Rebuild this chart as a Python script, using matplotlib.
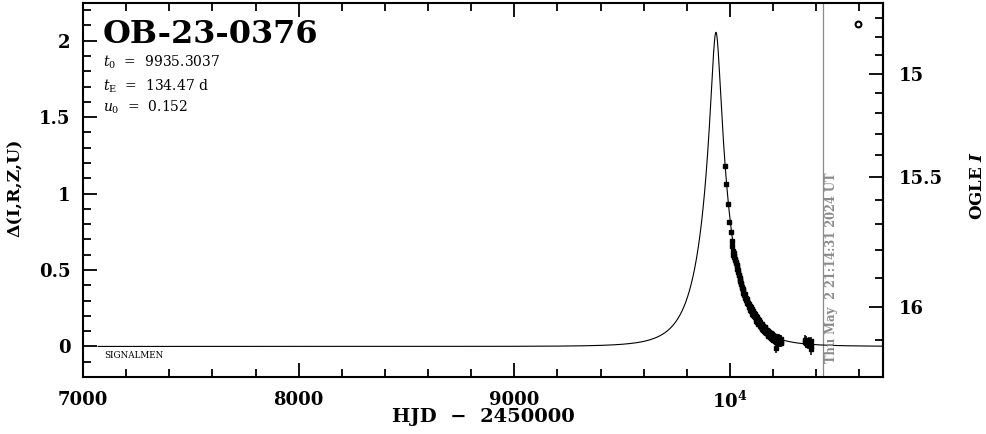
import numpy as np
import matplotlib
matplotlib.use('Agg')
import matplotlib.pyplot as plt
from matplotlib.ticker import FixedLocator, FixedFormatter
from matplotlib.transforms import blended_transform_factory, offset_copy

# ---------------- data ----------------
event_name = "OB-23-0376"
t0 = 9935.3037      # HJD - 2450000
tE = 134.47         # days
u0 = 0.152
I_base = 16.118     # baseline OGLE I magnitude
f_source = 0.4326   # source flux fraction at baseline
t_now = 10432.885   # Thu May 2 21:14:31 2024 UT
now_label = "Thu May  2 21:14:31 2024 UT"

t_obs = [9975, 9984, 9992, 9998, 10003, 10008, 10011,
         10013, 10015, 10017, 10019, 10021, 10023, 10025, 10027, 10029, 10031,
         10033, 10035, 10037, 10039, 10041, 10043, 10045, 10047, 10049, 10051,
         10053, 10055, 10057, 10059, 10061, 10063, 10065, 10067, 10069, 10071,
         10073, 10075, 10077, 10079, 10081, 10083, 10085, 10087, 10089, 10091,
         10093, 10095, 10097, 10099, 10101, 10103, 10105, 10107, 10109, 10111,
         10113, 10115, 10117, 10119, 10121, 10123, 10125, 10127, 10129, 10131,
         10133, 10135, 10137, 10139, 10141, 10143, 10145, 10147, 10149, 10151,
         10153, 10155, 10157, 10159, 10161, 10163, 10165, 10167, 10169, 10171,
         10173, 10175, 10177, 10179, 10181, 10183, 10185, 10187, 10189, 10191,
         10193, 10195, 10197, 10199, 10201, 10203, 10205, 10207, 10209, 10211,
         10213, 10215, 10217, 10219, 10221, 10223, 10225, 10227, 10229, 10231,
         10233, 10235, 10237, 10239, 10213,
         10348, 10350, 10352, 10355, 10358, 10360, 10363, 10366, 10370, 10374,
         10376, 10378]
delta_obs = [1.18, 1.065, 0.93, 0.815, 0.75, 0.69, 0.66,
             0.625, 0.60, 0.61, 0.585, 0.59, 0.565, 0.575, 0.55, 0.545, 0.53,
             0.525, 0.505, 0.50, 0.485, 0.47, 0.465, 0.445, 0.44, 0.425, 0.415,
             0.41, 0.39, 0.385, 0.37, 0.375, 0.35, 0.345, 0.335, 0.34, 0.315,
             0.32, 0.305, 0.31, 0.285, 0.30, 0.275, 0.285, 0.26, 0.275, 0.25,
             0.265, 0.24, 0.255, 0.23, 0.245, 0.215, 0.235, 0.205, 0.225, 0.20,
             0.22, 0.19, 0.21, 0.18, 0.20, 0.165, 0.19, 0.16, 0.18, 0.15,
             0.175, 0.145, 0.165, 0.135, 0.16, 0.13, 0.15, 0.12, 0.145, 0.115,
             0.135, 0.105, 0.13, 0.10, 0.125, 0.095, 0.12, 0.09, 0.11, 0.085,
             0.105, 0.075, 0.10, 0.07, 0.095, 0.065, 0.09, 0.06, 0.085, 0.055,
             0.08, 0.05, 0.075, 0.045, 0.07, 0.04, 0.065, 0.035, 0.065, 0.04,
             0.06, 0.03, 0.055, 0.035, 0.06, 0.025, 0.05, 0.03, 0.055, 0.02,
             0.045, 0.03, 0.05, 0.025, -0.01,
             0.03, 0.045, 0.02, 0.04, 0.015, 0.025, 0.01, 0.03, 0.02, 0.0,
             0.035, -0.02]
delta_err = [0.012, 0.012, 0.012, 0.012, 0.012, 0.012, 0.012,
             0.012, 0.014, 0.012, 0.013, 0.012, 0.014, 0.012, 0.013, 0.012, 0.014,
             0.012, 0.013, 0.014, 0.012, 0.013, 0.012, 0.014, 0.013, 0.012, 0.014,
             0.013, 0.015, 0.013, 0.014, 0.015, 0.013, 0.014, 0.016, 0.013, 0.015,
             0.014, 0.016, 0.014, 0.015, 0.016, 0.014, 0.015, 0.017, 0.015, 0.016,
             0.015, 0.017, 0.016, 0.015, 0.018, 0.016, 0.017, 0.016, 0.018, 0.017,
             0.016, 0.018, 0.017, 0.019, 0.017, 0.018, 0.019, 0.017, 0.018, 0.02,
             0.018, 0.02, 0.019, 0.018, 0.02, 0.019, 0.021, 0.02, 0.019, 0.021,
             0.02, 0.022, 0.02, 0.021, 0.022, 0.02, 0.023, 0.021, 0.022, 0.02,
             0.022, 0.024, 0.021, 0.023, 0.022, 0.024, 0.022, 0.023, 0.025, 0.022,
             0.023, 0.025, 0.022, 0.024, 0.023, 0.025, 0.022, 0.024, 0.023, 0.025,
             0.024, 0.022, 0.025, 0.023, 0.024, 0.026, 0.023, 0.025, 0.024, 0.026,
             0.024, 0.025, 0.023, 0.026, 0.035,
             0.025, 0.03, 0.028, 0.03, 0.026, 0.032, 0.028, 0.03, 0.033, 0.03,
             0.027, 0.035]
t_extra = [10593]
delta_extra = [2.107]

x_ticks = [7000, 8000, 9000, 10000]
x_ticklabels = ["7000", "8000", "9000", r"$\mathbf{10^4}$"]
x_minor = [7200, 7400, 7600, 7800, 8200, 8400, 8600, 8800, 9200, 9400,
           9600, 9800, 10200, 10400, 10600]
y_ticks = [0, 0.5, 1, 1.5, 2]
y_ticklabels = ["0", "0.5", "1", "1.5", "2"]
y_minor = [-0.1, 0.1, 0.2, 0.3, 0.4, 0.6, 0.7, 0.8, 0.9, 1.1, 1.2, 1.3,
           1.4, 1.6, 1.7, 1.8, 1.9, 2.1, 2.2]
mag_ticks = [15, 15.5, 16]
mag_ticklabels = ["15", "15.5", "16"]
mag_minor = [14.7, 14.8, 14.9, 15.1, 15.2, 15.3, 15.4, 15.6, 15.7, 15.8,
             15.9, 16.1, 16.2]

# ---------------- model (from the fitted parameters) ----------------
t_model = np.linspace(7070, 10710, 4000)
u = np.sqrt(u0**2 + ((t_model - t0) / tE)**2)
A = (u**2 + 2) / (u * np.sqrt(u**2 + 4))
delta_model = 2.5 * np.log10(A)


def d2I(d):
    d = np.asarray(d, dtype=float)
    return I_base - 2.5 * np.log10(f_source * 10**(0.4 * d) + 1 - f_source)


def I2d(m):
    m = np.asarray(m, dtype=float)
    f = 10**(-0.4 * (m - I_base)) - (1 - f_source)
    f = np.clip(f, 1e-6, None)
    return 2.5 * np.log10(f / f_source)


# ---------------- figure ----------------
plt.rcParams['font.family'] = ['DejaVu Serif', 'DejaVu Sans']
plt.rcParams['font.weight'] = 'bold'
plt.rcParams['mathtext.fontset'] = 'custom'
plt.rcParams['mathtext.rm'] = 'DejaVu Serif:normal'
plt.rcParams['mathtext.it'] = 'DejaVu Serif:italic:normal'
plt.rcParams['mathtext.bf'] = 'DejaVu Serif:bold'
plt.rcParams['mathtext.bfit'] = 'DejaVu Serif:italic:bold'

W, H = 986, 434
fig = plt.figure(figsize=(W / 100, H / 100), dpi=100)
ax = fig.add_axes([83 / W, 1 - 377 / H, 800 / W, 374.5 / H])

ax.plot(t_model, delta_model, color='black', lw=0.8, zorder=2)
ax.errorbar(t_obs, delta_obs, yerr=delta_err, fmt='s', ms=3.0, color='black',
            mec='black', ecolor='black', elinewidth=1.1, capsize=0, zorder=3)
ax.plot(t_extra, delta_extra, 'o', ms=4.2, mfc='white', mec='black', mew=1.5,
        zorder=3)

ax.axvline(t_now, color='#8a8a8a', lw=0.9, zorder=1)
trans = offset_copy(blended_transform_factory(ax.transData, ax.transAxes),
                    fig=fig, x=8, y=0, units='dots')
ax.text(t_now, 0.037, now_label, transform=trans, rotation=90, ha='center',
        va='bottom', color='#8a8a8a', fontsize=8.3, fontweight='bold')

ax.set_xlim(7000, 10710)
ax.set_ylim(-0.2, 2.25)

ax.xaxis.set_major_locator(FixedLocator(x_ticks))
ax.xaxis.set_major_formatter(FixedFormatter(x_ticklabels))
ax.xaxis.set_minor_locator(FixedLocator(x_minor))
ax.yaxis.set_major_locator(FixedLocator(y_ticks))
ax.yaxis.set_major_formatter(FixedFormatter(y_ticklabels))
ax.yaxis.set_minor_locator(FixedLocator(y_minor))

ax.tick_params(which='both', direction='in', top=True, right=False,
               width=1.3, labelsize=13)
ax.tick_params(which='major', length=10)
ax.tick_params(which='minor', length=5.5)
ax.tick_params(axis='y', pad=9)
ax.tick_params(axis='x', pad=10)
for sp in ax.spines.values():
    sp.set_linewidth(1.5)

sec = ax.secondary_yaxis('right', functions=(d2I, I2d))
sec.yaxis.set_major_locator(FixedLocator(mag_ticks))
sec.yaxis.set_major_formatter(FixedFormatter(mag_ticklabels))
sec.yaxis.set_minor_locator(FixedLocator(mag_minor))
sec.tick_params(which='both', direction='in', width=1.3, labelsize=13, pad=11)
sec.tick_params(which='major', length=10)
sec.tick_params(which='minor', length=5.5)
for sp in sec.spines.values():
    sp.set_linewidth(1.5)

# axis labels
fig.text(483 / W, 1 - 422 / H, "HJD  \u2212  2450000", ha='center',
         va='baseline', fontsize=14, fontweight='bold')
fig.text(15 / W, 1 - 188 / H, "\u0394(I,R,Z,U)", rotation=90, ha='center',
         va='center', fontsize=12.5, fontweight='bold')
fig.text(977 / W, 1 - 185 / H, r"OGLE $\boldsymbol{I}$", rotation=90,
         ha='center', va='center', fontsize=12, fontweight='bold')

# annotations
ax.text(0.025, 0.892, event_name, transform=ax.transAxes, fontsize=23,
        fontweight='bold', ha='left', va='baseline')
ax.text(0.025, 0.8286, r"$t_0$  =  %.4f" % t0, transform=ax.transAxes,
        fontsize=10, fontweight='normal', ha='left', va='baseline')
ax.text(0.025, 0.766, r"$t_{\rm E}$  =  %.2f d" % tE, transform=ax.transAxes,
        fontsize=10, fontweight='normal', ha='left', va='baseline')
ax.text(0.025, 0.708, r"$u_0$  =  %.3f" % u0, transform=ax.transAxes,
        fontsize=10, fontweight='normal', ha='left', va='baseline')
ax.text(0.026, 0.052, "SIGNALMEN", transform=ax.transAxes, fontsize=6.3,
        fontweight='normal', ha='left', va='baseline')

fig.savefig('out.png', dpi=100)
